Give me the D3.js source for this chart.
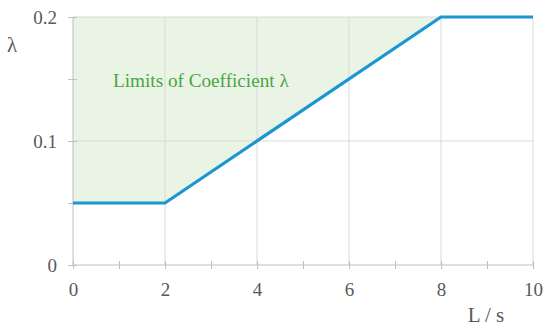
<!DOCTYPE html>
<html><head><meta charset="utf-8">
<script src="https://cdn.jsdelivr.net/npm/d3@7"></script>
<style>body{margin:0;background:#fff}svg{display:block}</style>
</head><body>
<script>
const lengthRatio = [0, 2, 8, 10];
const lambdaValues = [0.05, 0.05, 0.2, 0.2];
const xTicks = [0, 2, 4, 6, 8, 10];
const xMinorTicks = [1, 3, 5, 7, 9];
const yTicks = [0, 0.1, 0.2];
const yTickLabels = ["0", "0.1", "0.2"];
const yMinorTicks = [0.05, 0.15];
const regionLabel = "Limits of Coefficient λ";
const xAxisTitle = "L / s";
const yAxisTitle = "λ";

const W = 550, H = 328;
const svg = d3.select("body").append("svg").attr("width", W).attr("height", H);
const x = d3.scaleLinear().domain([0, 10]).range([73, 533]);
const y = d3.scaleLinear().domain([0, 0.2]).range([265, 17]);
const font = "'Liberation Serif','Times New Roman',serif";

// fill region above line
const pts = lengthRatio.map((v, i) => ({x: v, y: lambdaValues[i]}));
const areaPts = pts.filter(p => p.y < 0.2 || p.x === 8);
svg.append("path")
  .datum(areaPts)
  .attr("d", d3.area().x(d => x(d.x)).y0(y(0.2)).y1(d => y(d.y)))
  .attr("fill", "#e9f4e4");

// grid
svg.append("g").selectAll("line").data(xTicks.filter(d => d > 0)).join("line")
  .attr("x1", d => x(d)).attr("x2", d => x(d)).attr("y1", y(0)).attr("y2", y(0.2))
  .attr("stroke", "#d9d9d9").attr("stroke-width", 1);
svg.append("g").selectAll("line").data(yTicks.filter(d => d > 0)).join("line")
  .attr("x1", x(0)).attr("x2", x(10)).attr("y1", d => y(d)).attr("y2", d => y(d))
  .attr("stroke", "#d9d9d9").attr("stroke-width", 1);

// axes
const axisColor = "#bfbfbf";
const xAxis = svg.append("g").attr("transform", `translate(0,${y(0)})`)
  .call(d3.axisBottom(x).tickValues(xTicks).tickSize(4).tickPadding(14).tickFormat(d3.format("d")));
const xMinor = svg.append("g").attr("transform", `translate(0,${y(0)})`)
  .call(d3.axisBottom(x).tickValues(xMinorTicks).tickSize(4).tickFormat(""));
const xTop = svg.append("g").attr("transform", `translate(0,${y(0)})`)
  .call(d3.axisTop(x).tickValues(xTicks.concat(xMinorTicks)).tickSize(4).tickFormat(""));
const yAxis = svg.append("g").attr("transform", `translate(${x(0)},0)`)
  .call(d3.axisLeft(y).tickValues(yTicks).tickSize(5).tickPadding(11).tickFormat((d, i) => yTickLabels[i]));
const yMinor = svg.append("g").attr("transform", `translate(${x(0)},0)`)
  .call(d3.axisLeft(y).tickValues(yMinorTicks).tickSize(5).tickFormat(""));
const yRight = svg.append("g").attr("transform", `translate(${x(0)},0)`)
  .call(d3.axisRight(y).tickValues(yTicks.concat(yMinorTicks)).tickSize(4).tickFormat(""));
svg.selectAll(".domain").attr("stroke", axisColor);
svg.selectAll(".tick line").attr("stroke", axisColor);
svg.selectAll(".tick text").attr("font-family", font).attr("font-size", 19).attr("fill", "#595959");
xAxis.select(".domain").attr("d", `M${x(0)},0H${x(10)}`);
yAxis.select(".domain").attr("d", `M0,${y(0)}V${y(0.2)}`);
[xMinor, xTop, yMinor, yRight].forEach(g => g.select(".domain").remove());

// line
svg.append("path").datum(pts)
  .attr("d", d3.line().x(d => x(d.x)).y(d => y(d.y)))
  .attr("fill", "none").attr("stroke", "#1b96d3").attr("stroke-width", 3.2);

// texts
svg.append("text").attr("x", 113).attr("y", 87).text(regionLabel)
  .attr("font-family", font).attr("font-size", 19.2).attr("fill", "#4aa546");
svg.append("text").attr("x", 486).attr("y", 322).attr("text-anchor", "middle").text(xAxisTitle)
  .attr("font-family", font).attr("font-size", 21).attr("fill", "#595959").attr("xml:space", "preserve");
svg.append("text").attr("x", 12).attr("y", 52).attr("text-anchor", "middle").text(yAxisTitle)
  .attr("font-family", font).attr("font-size", 21).attr("fill", "#595959");
</script>
</body></html>
